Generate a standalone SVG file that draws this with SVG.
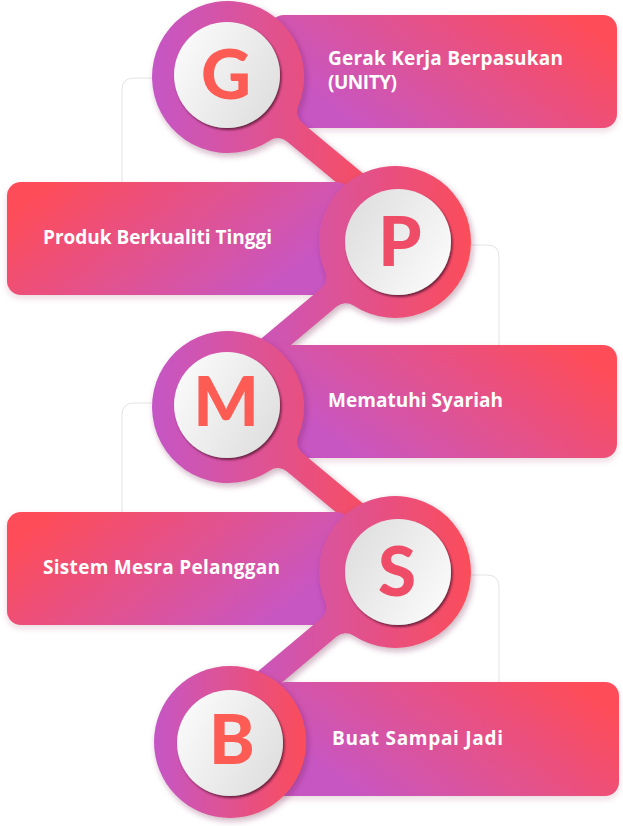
<svg xmlns="http://www.w3.org/2000/svg" width="623" height="826" viewBox="0 0 623 826">
  <style>
    .label { font-family: "Open Sans", "Liberation Sans", sans-serif; font-weight: 700; font-size: 19px; fill: #ffffff; }
    .letter { font-family: "Lato", "Liberation Sans", sans-serif; font-weight: 900; font-size: 69px; text-anchor: middle; }
    .lc1 { fill: #fd5c55; }
    .lc2 { fill: #ef4c67; }
    .guide { fill: none; stroke: #e4e4e4; stroke-width: 1; }
  </style>
  <defs>
    <linearGradient id="ring" x1="0" y1="0" x2="1" y2="0">
      <stop offset="0" stop-color="#c556c6"/>
      <stop offset="1" stop-color="#fb4d5a"/>
    </linearGradient>
    <linearGradient id="rectR" x1="0" y1="0.7" x2="1" y2="0.3">
      <stop offset="0.1" stop-color="#c756c3"/>
      <stop offset="1" stop-color="#fe4d58"/>
    </linearGradient>
    <linearGradient id="rectL" x1="0" y1="0.3" x2="1" y2="0.7">
      <stop offset="0" stop-color="#fe4d58"/>
      <stop offset="0.9" stop-color="#c756c3"/>
    </linearGradient>
    <linearGradient id="discR" x1="0" y1="0.2" x2="1" y2="0.8">
      <stop offset="0" stop-color="#fbfbfb"/>
      <stop offset="1" stop-color="#dedede"/>
    </linearGradient>
    <linearGradient id="discL" x1="0" y1="0.2" x2="1" y2="0.8">
      <stop offset="0" stop-color="#dedede"/>
      <stop offset="1" stop-color="#fbfbfb"/>
    </linearGradient>
    <filter id="rectShadow" x="-10%" y="-20%" width="120%" height="150%">
      <feDropShadow dx="0" dy="3" stdDeviation="3" flood-color="#8a2a4a" flood-opacity="0.18"/>
    </filter>
    <filter id="ringShadow" x="-20%" y="-20%" width="140%" height="140%">
      <feDropShadow dx="2" dy="3" stdDeviation="3" flood-color="#6a1b45" flood-opacity="0.35"/>
    </filter>
    <filter id="discShadow" x="-20%" y="-20%" width="140%" height="140%">
      <feDropShadow dx="1.5" dy="2" stdDeviation="0.9" flood-color="#5c1636" flood-opacity="0.85"/>
    </filter>
  </defs>

  <g id="connectors">
    <path class="guide" d="M155 78 H134 Q122 78 122 90 V182"/>
    <path class="guide" d="M470 245 H487 Q499 245 499 257 V345"/>
    <path class="guide" d="M155 403 H134 Q122 403 122 415 V512"/>
    <path class="guide" d="M470 575 H487 Q499 575 499 587 V682"/>
  </g>

  <g id="node-G">
    <rect x="270" y="15" width="347" height="113" rx="14" fill="url(#rectR)" filter="url(#rectShadow)"/>
    <path fill="url(#ring)" filter="url(#ringShadow)" d="M269.98 140.40 A14 14 0 0 1 286.65 141.30 L370.36 210.80 L385.70 192.34 L301.99 122.84 A14 14 0 0 1 298.04 106.60 A76 76 0 1 0 269.98 140.40 Z"/>
    <circle cx="227" cy="75" r="53" fill="url(#discR)" filter="url(#discShadow)"/>
    <text class="letter lc1" x="226" y="99">G</text>
    <text class="label" x="328" y="65" textLength="235" lengthAdjust="spacing">Gerak Kerja Berpasukan</text>
    <text class="label" x="328" y="89" textLength="69" lengthAdjust="spacing">(UNITY)</text>
  </g>

  <g id="node-P">
    <rect x="7" y="182" width="343" height="113" rx="14" fill="url(#rectL)" filter="url(#rectShadow)"/>
    <path fill="url(#ring)" filter="url(#ringShadow)" d="M325.11 271.98 A14 14 0 0 1 321.26 288.22 L234.09 361.37 L249.51 379.75 L336.68 306.60 A14 14 0 0 1 353.35 305.62 A76 76 0 1 0 325.11 271.98 Z"/>
    <circle cx="398" cy="242" r="53" fill="url(#discL)" filter="url(#discShadow)"/>
    <text class="letter lc2" x="400" y="266">P</text>
    <text class="label" x="43" y="244" textLength="229" lengthAdjust="spacing">Produk Berkualiti Tinggi</text>
  </g>

  <g id="node-M">
    <rect x="270" y="345" width="347" height="113" rx="14" fill="url(#rectR)" filter="url(#rectShadow)"/>
    <path fill="url(#ring)" filter="url(#ringShadow)" d="M269.98 470.40 A14 14 0 0 1 286.65 471.30 L370.36 540.80 L385.70 522.34 L301.99 452.84 A14 14 0 0 1 298.04 436.60 A76 76 0 1 0 269.98 470.40 Z"/>
    <circle cx="227" cy="405" r="53" fill="url(#discR)" filter="url(#discShadow)"/>
    <text class="letter lc1" x="226" y="426">M</text>
    <text class="label" x="328" y="407" textLength="175" lengthAdjust="spacing">Mematuhi Syariah</text>
  </g>

  <g id="node-S">
    <rect x="7" y="512" width="343" height="113" rx="14" fill="url(#rectL)" filter="url(#rectShadow)"/>
    <path fill="url(#ring)" filter="url(#ringShadow)" d="M325.11 601.98 A14 14 0 0 1 321.26 618.22 L234.09 691.37 L249.51 709.75 L336.68 636.60 A14 14 0 0 1 353.35 635.62 A76 76 0 1 0 325.11 601.98 Z"/>
    <circle cx="398" cy="572" r="53" fill="url(#discL)" filter="url(#discShadow)"/>
    <text class="letter lc2" x="397" y="596">S</text>
    <text class="label" x="43" y="574" textLength="237" lengthAdjust="spacing">Sistem Mesra Pelanggan</text>
  </g>

  <g id="node-B">
    <rect x="272" y="682" width="347" height="114" rx="14" fill="url(#rectR)" filter="url(#rectShadow)"/>
    <circle cx="230" cy="742" r="76" fill="url(#ring)" filter="url(#ringShadow)"/>
    <circle cx="230" cy="743" r="53" fill="url(#discR)" filter="url(#discShadow)"/>
    <text class="letter lc1" x="232" y="764">B</text>
    <text class="label" x="332" y="745" textLength="171" lengthAdjust="spacing">Buat Sampai Jadi</text>
  </g>
</svg>
